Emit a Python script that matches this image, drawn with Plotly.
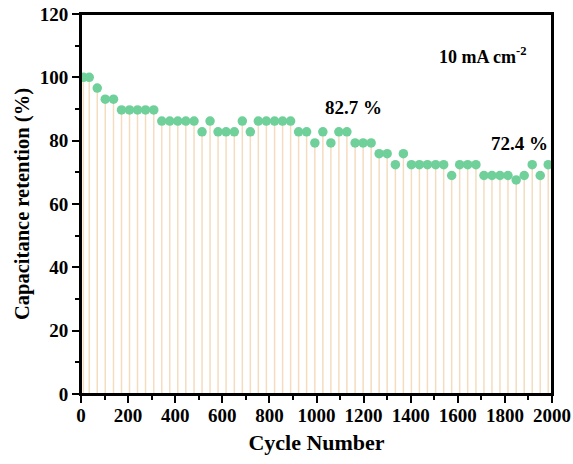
import plotly.graph_objects as go

cycles = [10, 35, 69, 103, 138, 172, 206, 240, 274, 309, 343, 377, 411, 445, 480,
          514, 548, 582, 616, 651, 685, 719, 753, 787, 822, 856, 890, 924, 958, 993,
          1027, 1061, 1095, 1129, 1164, 1198, 1232, 1266, 1300, 1335, 1369, 1403, 1437,
          1471, 1506, 1540, 1574, 1608, 1642, 1677, 1711, 1745, 1779, 1813, 1848, 1882,
          1916, 1950, 1984]
retention = [100, 100, 96.6, 93.1, 93.1, 89.7, 89.7, 89.7, 89.7, 89.7,
             86.2, 86.2, 86.2, 86.2, 86.2, 82.8, 86.2, 82.8, 82.8, 82.8,
             86.2, 82.8, 86.2, 86.2, 86.2, 86.2, 86.2, 82.8, 82.8, 79.3,
             82.8, 79.3, 82.8, 82.8, 79.3, 79.3, 79.3, 75.9, 75.9, 72.4,
             75.9, 72.4, 72.4, 72.4, 72.4, 72.4, 69.0, 72.4, 72.4, 72.4,
             69.0, 69.0, 69.0, 69.0, 67.6, 69.0, 72.4, 69.0, 72.4]

x_ticks = list(range(0, 2001, 200))
y_ticks = list(range(0, 121, 20))
x_range = [0, 2000]
y_range = [0, 120]

FONT = "Liberation Serif, Times New Roman, serif"

stem_x, stem_y = [], []
for c, v in zip(cycles, retention):
    stem_x += [c, c, None]
    stem_y += [0, v, None]

fig = go.Figure()
fig.add_trace(go.Scatter(x=stem_x, y=stem_y, mode="lines",
                         line=dict(color="#F4DDBF", width=1.5),
                         hoverinfo="skip", showlegend=False))
fig.add_trace(go.Scatter(x=cycles, y=retention, mode="markers",
                         marker=dict(color="#70D09A", size=9.5, line=dict(width=0)),
                         showlegend=False, cliponaxis=False))
# frame around the plotting area, following the axis ranges
fig.add_trace(go.Scatter(x=[x_range[0], x_range[1], x_range[1], x_range[0], x_range[0]],
                         y=[y_range[0], y_range[0], y_range[1], y_range[1], y_range[0]],
                         mode="lines", line=dict(color="black", width=2),
                         hoverinfo="skip", showlegend=False, cliponaxis=False))

axis_common = dict(showline=True, linecolor="#000000", linewidth=2, mirror=True,
                   ticks="outside", ticklen=7, tickwidth=1.5, tickcolor="black",
                   showgrid=False, zeroline=False, automargin=False,
                   tickfont=dict(family=FONT, size=19, color="black", weight="bold"))

fig.update_xaxes(range=x_range, tickvals=x_ticks, ticklabelstandoff=-4,
                 minor=dict(dtick=100, ticks="outside", ticklen=4, tickwidth=1.5, tickcolor="black"),
                 title=dict(text="Cycle Number", font=dict(family=FONT, size=22, color="black", weight="bold"),
                            standoff=10),
                 **axis_common)
fig.update_yaxes(range=y_range, tickvals=y_ticks,
                 minor=dict(dtick=10, ticks="outside", ticklen=4, tickwidth=1.5, tickcolor="black"),
                 title=dict(text="Capacitance retention (%)", font=dict(family=FONT, size=20.5, color="black", weight="bold"),
                            standoff=5),
                 **axis_common)

ann_font = dict(family=FONT, size=18, color="black", weight="bold")
fig.add_annotation(x=1703, y=107, text="10 mA cm<sup>-2</sup>", showarrow=False, font=ann_font)
fig.add_annotation(x=1155, y=90.6, text="82.7 %", showarrow=False, font=dict(ann_font, size=19))
fig.add_annotation(x=1860, y=79.2, text="72.4 %", showarrow=False, font=dict(ann_font, size=19))

fig.update_layout(width=573, height=464, margin=dict(l=81, r=21, t=14, b=70, autoexpand=False),
                  plot_bgcolor="white", paper_bgcolor="white")

fig.write_html("out.html")
